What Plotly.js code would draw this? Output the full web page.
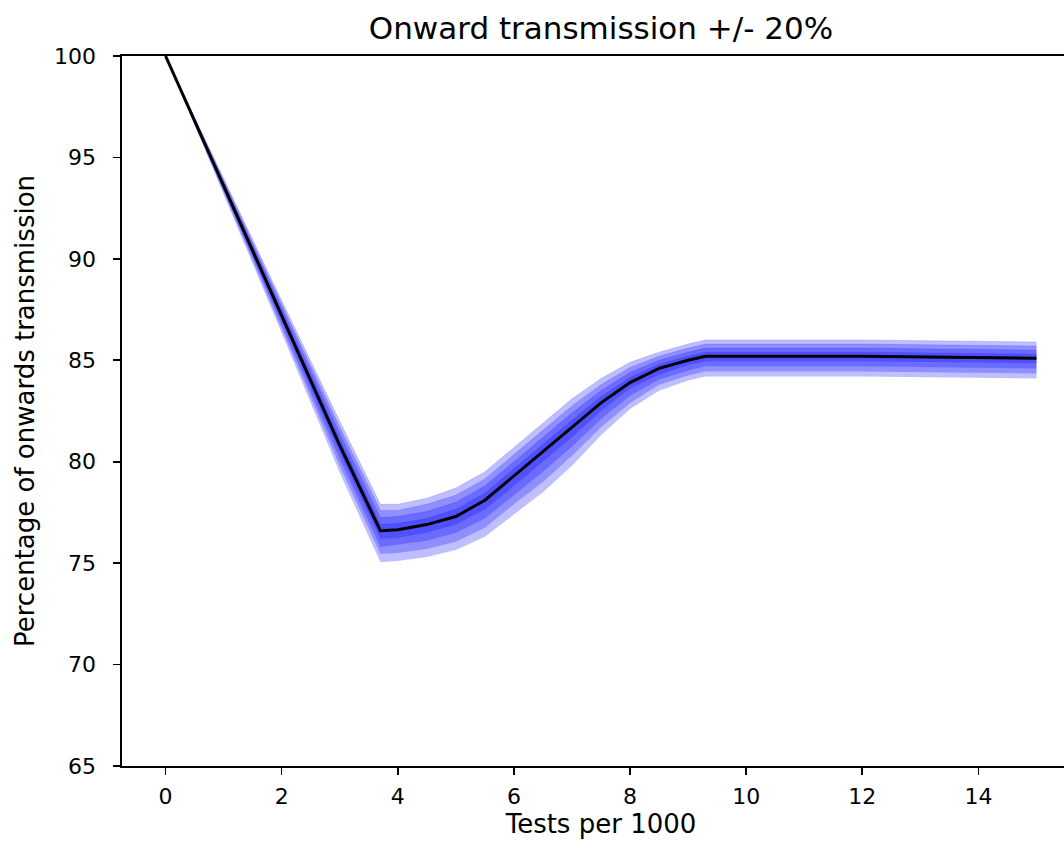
<!DOCTYPE html>
<html>
<head>
<meta charset="utf-8">
<script src="https://cdn.plot.ly/plotly-3.0.1.min.js"></script>
<style>
html,body{margin:0;padding:0;overflow:hidden;background:#fff;}
#chart{width:1100px;height:848px;}
</style>
</head>
<body>
<div id="chart"></div>
<script>
// Tests per 1000
const testsPer1000 = [0,1,2,3,3.7,4,4.5,5,5.5,6,6.5,7,7.5,8,8.5,9,9.3,10,12,15];
// central estimate (%)
const central = [100,93.6,87.2,80.8,76.6,76.65,76.9,77.3,78.1,79.3,80.5,81.7,82.9,83.9,84.6,85.0,85.2,85.2,85.2,85.1];
// band edges (outermost = +/-20%)
const upper4 = [100,93.95,87.95,82.0,77.9,77.9,78.2,78.7,79.5,80.7,81.9,83.1,84.1,84.9,85.4,85.8,86.0,86.0,86.0,85.9];
const upper3 = [100,93.86,87.76,81.7,77.6,77.6,77.9,78.35,79.15,80.35,81.55,82.75,83.8,84.65,85.2,85.6,85.8,85.8,85.8,85.7];
const upper2 = [100,93.78,87.58,81.4,77.25,77.3,77.55,78.0,78.8,80.0,81.2,82.4,83.5,84.4,85.0,85.4,85.6,85.6,85.6,85.5];
const upper1 = [100,93.69,87.39,81.1,76.9,76.95,77.2,77.65,78.45,79.65,80.85,82.05,83.2,84.15,84.8,85.2,85.4,85.4,85.4,85.3];
const lower1 = [100,93.5,86.99,80.46,76.2,76.25,76.5,76.9,77.65,78.8,80.0,81.2,82.5,83.6,84.3,84.75,84.95,84.95,84.95,84.85];
const lower2 = [100,93.4,86.78,80.13,75.8,75.9,76.1,76.5,77.2,78.35,79.5,80.75,82.1,83.25,84.05,84.5,84.7,84.7,84.7,84.6];
const lower3 = [100,93.3,86.56,79.79,75.45,75.5,75.7,76.05,76.75,77.9,79.0,80.3,81.7,82.9,83.8,84.25,84.45,84.45,84.45,84.35];
const lower4 = [100,93.2,86.35,79.45,75.05,75.1,75.3,75.65,76.3,77.4,78.5,79.8,81.3,82.6,83.5,84.0,84.2,84.2,84.2,84.1];

const xTicks = [0,2,4,6,8,10,12,14];
const yTicks = [65,70,75,80,85,90,95,100];

const bandFill = 'rgba(0,0,255,0.25)';
const bands = [[lower4,upper4],[lower3,upper3],[lower2,upper2],[lower1,upper1]];
const traces = [];
bands.forEach(([lo,hi]) => {
  traces.push({x:testsPer1000, y:lo, mode:'lines', line:{width:0, color:bandFill}, hoverinfo:'skip', showlegend:false});
  traces.push({x:testsPer1000, y:hi, mode:'lines', fill:'tonexty', fillcolor:bandFill, line:{width:0.6, color:bandFill}, hoverinfo:'skip', showlegend:false});
});
traces.push({x:testsPer1000, y:central, mode:'lines', line:{color:'#000', width:3}, showlegend:false});

const font = {family:'DejaVu Sans, sans-serif', color:'#000'};
const layout = {
  width:1100, height:848,
  margin:{l:122, r:20, t:56, b:82},
  paper_bgcolor:'#fff', plot_bgcolor:'#fff',
  showlegend:false,
  title:{text:'Onward transmission +/- 20%', font:Object.assign({size:31}, font), x:0.5, xref:'paper', xanchor:'center', y:1, yref:'paper', yanchor:'bottom', pad:{b:17}},
  xaxis:{range:[-0.75,15.75], tickvals:xTicks, ticktext:xTicks.map(String), showgrid:false, zeroline:false,
    showline:true, mirror:true, linecolor:'#000', linewidth:1.6, ticks:'outside', ticklen:7, tickwidth:1.6, tickcolor:'#000',
    ticklabelstandoff:3,
    tickfont:Object.assign({size:22}, font),
    title:{text:'Tests per 1000', font:Object.assign({size:26}, font), standoff:6}},
  yaxis:{range:[65,100], tickvals:yTicks, ticktext:yTicks.map(String), showgrid:false, zeroline:false,
    showline:true, mirror:true, linecolor:'#000', linewidth:1.6, ticks:'outside', ticklen:7, tickwidth:1.6, tickcolor:'#000',
    ticklabelstandoff:13,
    tickfont:Object.assign({size:22}, font),
    title:{text:'Percentage of onwards transmission', font:Object.assign({size:26}, font), standoff:12}}
};
Plotly.newPlot('chart', traces, layout, {displayModeBar:false, staticPlot:true});
</script>
</body>
</html>
